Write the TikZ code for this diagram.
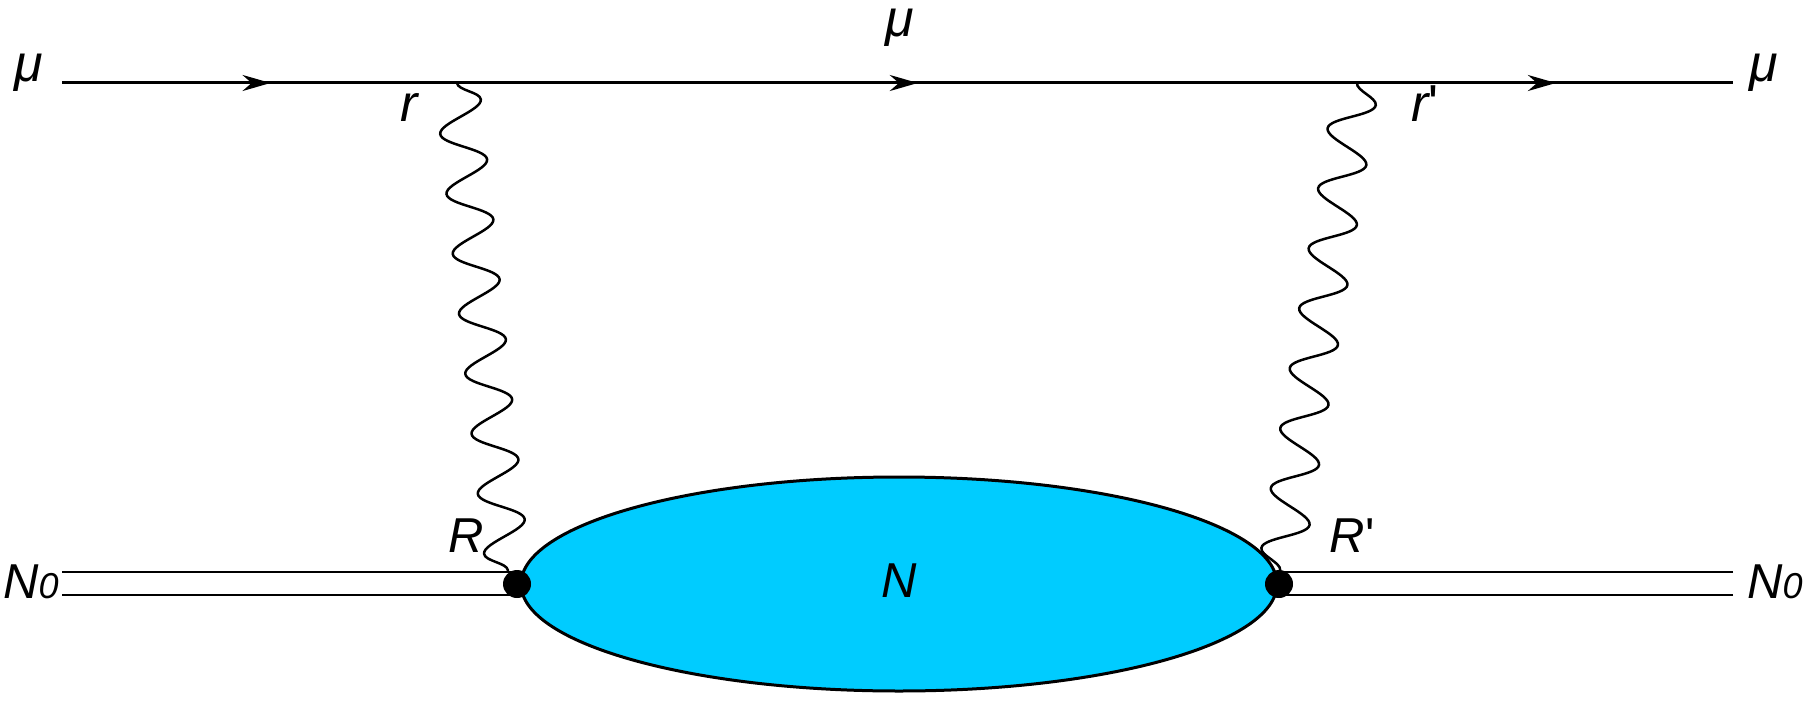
\documentclass[tikz,border=0pt]{standalone}
\usepackage{fontspec}
\setmainfont{Liberation Sans}
\usetikzlibrary{decorations.pathmorphing,decorations.markings,arrows.meta,shapes.geometric}
\definecolor{blobcyan}{RGB}{0,204,255}
\begin{document}
\begin{tikzpicture}[x=1pt,y=-1pt,
  fline/.style={line width=3pt},
  nline/.style={line width=2.8pt},
  midarrow/.style={postaction={decorate},decoration={markings,mark=at position #1 with {\arrow{Stealth[length=28pt,width=16pt]}}}},
  photon/.style={decorate,decoration={snake,segment length=#1,amplitude=22pt,pre length=0pt,post length=0pt},line width=2.5pt},
  vdot/.style={circle,fill=black,minimum size=28pt,inner sep=0pt},
  lbl/.style={anchor=base,inner sep=0pt,font=\itshape\fontsize{52}{60}\selectfont},
  lblN/.style={anchor=base,inner sep=0pt,font=\itshape\fontsize{49}{58}\selectfont}]
\useasboundingbox (0,0) rectangle (1809,706);
% coordinates
\coordinate (mi) at (62,83);
\coordinate (v1) at (457,83);
\coordinate (v2) at (1357,83);
\coordinate (mo) at (1733,83);
\coordinate (dlc) at (517,584);
\coordinate (drc) at (1279,584);
\coordinate (la) at (62,572);
\coordinate (lb) at (62,595);
\coordinate (ra) at (1733,572);
\coordinate (rb) at (1733,595);
\coordinate (wl) at (508,571);
\coordinate (wr) at (1280,571);
% muon line
\draw[fline,midarrow=0.528] (mi) -- (v1);
\draw[fline,midarrow=0.512] (v1) -- (v2);
\draw[fline,midarrow=0.529] (v2) -- (mo);
% nucleus lines
\draw[nline] (la) -- (la -| dlc);
\draw[nline] (lb) -- (lb -| dlc);
\draw[nline] (ra) -- (ra -| drc);
\draw[nline] (rb) -- (rb -| drc);
% blob
\node[ellipse,draw,line width=3pt,fill=blobcyan,minimum width=756pt,minimum height=214pt,inner sep=0pt] (blob) at (899,584) {};
% photons
\draw[photon=60.3pt] (v1) -- (wl);
\draw[photon=60.7pt] (v2) -- (wr);
% vertices
\node[vdot] (dl) at (dlc) {};
\node[vdot] (dr) at (drc) {};
% labels
\node[lbl] (mul) at (29,82) {μ};
\node[lbl] (mut) at (900,37) {μ};
\node[lbl] (mur) at (1764,82) {μ};
\node[lbl] (rl) at (409,122) {r};
\node[lbl] (rr) at (1425,122) {r{\upshape\textquotesingle}};
\node[lblN] (Rl) at (466,552) {R};
\node[lblN] (Rr) at (1352,552) {R{\upshape\textquotesingle}};
\node[lblN] (Nl) at (31,598) {N{\fontsize{36}{40}\selectfont 0}};
\node[lblN] (Nr) at (1775,598) {N{\fontsize{36}{40}\selectfont 0}};
\node[lblN] (Nc) at (899,597) {N};
\end{tikzpicture}
\end{document}
